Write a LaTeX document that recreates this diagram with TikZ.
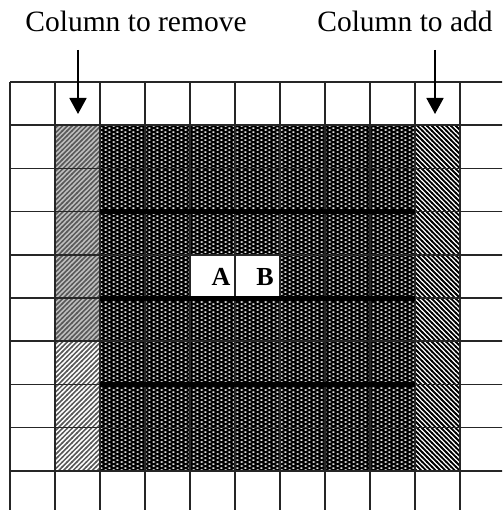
\documentclass[tikz,border=0pt]{standalone}
\usepackage{fontspec}
\setmainfont{Liberation Serif}
\usetikzlibrary{patterns,arrows.meta}

\pgfdeclarepatternformonly{ovals}{\pgfpointorigin}{\pgfpoint{8pt}{4.4pt}}{\pgfpoint{8pt}{4.4pt}}{%
 \pgfpathellipse{\pgfpoint{2pt}{1.1pt}}{\pgfpoint{1.9pt}{0pt}}{\pgfpoint{0pt}{0.9pt}}%
 \pgfpathellipse{\pgfpoint{6pt}{3.3pt}}{\pgfpoint{1.9pt}{0pt}}{\pgfpoint{0pt}{0.9pt}}%
 \pgfusepath{fill}}

\pgfdeclarepatternformonly{nehatch}{\pgfpoint{-1pt}{-1pt}}{\pgfpoint{5.8pt}{5.8pt}}{\pgfpoint{4.8pt}{4.8pt}}{%
 \pgfsetlinewidth{1.5pt}%
 \pgfpathmoveto{\pgfpoint{-0.5pt}{-0.5pt}}\pgfpathlineto{\pgfpoint{5.3pt}{5.3pt}}%
 \pgfusepath{stroke}}

\pgfdeclarepatternformonly{nwhatch}{\pgfpoint{-1pt}{-1pt}}{\pgfpoint{5.8pt}{5.8pt}}{\pgfpoint{4.8pt}{4.8pt}}{%
 \pgfsetlinewidth{1.8pt}%
 \pgfpathmoveto{\pgfpoint{-0.5pt}{5.3pt}}\pgfpathlineto{\pgfpoint{5.3pt}{-0.5pt}}%
 \pgfusepath{stroke}}

\begin{document}
\begin{tikzpicture}[x=1pt,y=-1pt,
  gridline/.style={line width=1.5pt,black!85},
  thickline/.style={line width=5pt,black},
  toptext/.style={font=\fontsize{29.5}{32}\selectfont,anchor=base,inner sep=0pt},
  cellletter/.style={font=\fontsize{26}{28}\selectfont\bfseries,inner sep=0pt},
  downarrow/.style={line width=1.8pt,-{Triangle[width=17pt,length=16pt]}}]
\useasboundingbox (0,0) rectangle (502,510);
\fill[white] (0,0) rectangle (502,510);
\begin{scope}
\clip (0,0) rectangle (502,510);
% dark block
\fill[black] (100,125.2) rectangle (415,470.8);
\fill[pattern=ovals,pattern color=white] (100,125.2) rectangle (415,470.8);
% left hatched column (to remove)
\fill[black!25] (55,125.2) rectangle (100,341.2);
\fill[pattern=nehatch,pattern color=black!65] (55,125.2) rectangle (100,470.8);
% right hatched column (to add)
\fill[pattern=nwhatch,pattern color=black] (415,125.2) rectangle (460,470.8);
% A B cells
\fill[white] (190,254.8) rectangle (280,298);
% grid
\foreach \i in {0,...,11} \draw[gridline] ({10+45*\i},82) -- ({10+45*\i},520);
\foreach \j in {0,...,10} \draw[gridline] (10,{82+43.2*\j}) -- (520,{82+43.2*\j});
% thick separators
\foreach \j in {3,5,7} \draw[thickline] (100,{82+43.2*\j}) -- (415,{82+43.2*\j});
\end{scope}
\node[cellletter] (A) at (221,277) {A};
\node[cellletter] (B) at (265,277) {B};
\node[toptext] (rem) at (136,32) {Column to remove};
\node[toptext] (add) at (405,32) {Column to add};
\coordinate (remtop) at (78,50);
\coordinate (remtip) at (78,114);
\coordinate (addtop) at (435,50);
\coordinate (addtip) at (435,114);
\draw[downarrow] (remtop) -- (remtip);
\draw[downarrow] (addtop) -- (addtip);
\end{tikzpicture}
\end{document}
